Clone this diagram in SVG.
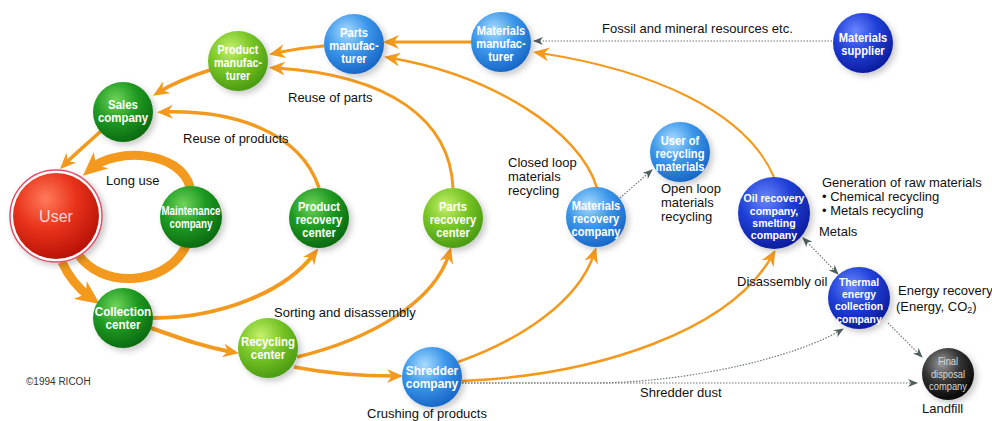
<svg xmlns="http://www.w3.org/2000/svg" width="992" height="421" viewBox="0 0 992 421">
<defs>
<radialGradient id="gDark" cx="0.38" cy="0.3" r="0.72"><stop offset="0" stop-color="#6fd45a"/><stop offset="0.5" stop-color="#1f9a22"/><stop offset="1" stop-color="#0a6a10"/></radialGradient>
<radialGradient id="gLight" cx="0.38" cy="0.3" r="0.72"><stop offset="0" stop-color="#c6f06c"/><stop offset="0.5" stop-color="#78c526"/><stop offset="1" stop-color="#4a9a12"/></radialGradient>
<radialGradient id="bLight" cx="0.38" cy="0.3" r="0.72"><stop offset="0" stop-color="#a8dcff"/><stop offset="0.5" stop-color="#3b96ea"/><stop offset="1" stop-color="#1766c6"/></radialGradient>
<radialGradient id="bDark" cx="0.38" cy="0.3" r="0.72"><stop offset="0" stop-color="#6a86ff"/><stop offset="0.5" stop-color="#2040d8"/><stop offset="1" stop-color="#0c1c9c"/></radialGradient>
<radialGradient id="blk" cx="0.38" cy="0.3" r="0.72"><stop offset="0" stop-color="#9a9a9a"/><stop offset="0.5" stop-color="#333"/><stop offset="1" stop-color="#050505"/></radialGradient>
<radialGradient id="red" cx="0.38" cy="0.3" r="0.72"><stop offset="0" stop-color="#ff7a5a"/><stop offset="0.5" stop-color="#e8321a"/><stop offset="1" stop-color="#b81208"/></radialGradient>
<filter id="sh" x="-30%" y="-30%" width="170%" height="170%"><feDropShadow dx="3" dy="3" stdDeviation="3" flood-color="#000" flood-opacity="0.22"/></filter>
<marker id="ao" markerUnits="userSpaceOnUse" markerWidth="16" markerHeight="14" refX="9" refY="7" orient="auto"><path d="M0,0 L16,7 L0,14 L5,7 z" fill="#f39a1e"/></marker>
<marker id="aoL" markerUnits="userSpaceOnUse" markerWidth="24" markerHeight="22" refX="12" refY="11" orient="auto"><path d="M0,0 L24,11 L0,22 L7,11 z" fill="#f39a1e"/></marker>
<marker id="ad" markerUnits="userSpaceOnUse" markerWidth="10" markerHeight="8" refX="9" refY="4" orient="auto"><path d="M0,0 L10,4 L0,8 L3,4 z" fill="#4e5e5c"/></marker>
<marker id="adS" markerUnits="userSpaceOnUse" markerWidth="10" markerHeight="8" refX="1" refY="4" orient="auto"><path d="M10,0 L0,4 L10,8 L7,4 z" fill="#4e5e5c"/></marker>
<style>
.o{fill:none;stroke:#f39a1e;stroke-linecap:butt}
.d{fill:none;stroke:#6f7775;stroke-width:1.2;stroke-dasharray:1.5 1.5}
.nt{font-family:"Liberation Sans",Arial,sans-serif;font-weight:bold;font-size:13px;fill:#fff;text-anchor:middle}
.n3{font-size:12px}
.n4{font-size:11px}
.lb{font-family:"Liberation Sans",Arial,sans-serif;font-size:13px;fill:#111}
.node circle{filter:url(#sh)}
</style>
</defs>

<g id="connectors">
<path class="o" stroke-width="3" d="M471,42 L390,42" marker-end="url(#ao)"/>
<path class="o" stroke-width="3" d="M324,46 C300,48 290,50 276,53" marker-end="url(#ao)"/>
<path class="o" stroke-width="3" d="M453,188 C450,120 390,75 276,68" marker-end="url(#ao)"/>
<path class="o" stroke-width="2.5" d="M597,188 C580,130 490,75 391,58" marker-end="url(#ao)"/>
<path class="o" stroke-width="2" d="M774,177 C745,110 650,70 540,53" marker-end="url(#ao)"/>
<path class="o" stroke-width="3.5" d="M319,188 C300,130 230,110 164,112" marker-end="url(#ao)"/>
<path class="o" stroke-width="3.5" d="M210,70 C185,78 172,84 159,92" marker-end="url(#ao)"/>
<path class="o" stroke-width="3.5" d="M101,131 C88,143 76,153 65,164" marker-end="url(#ao)"/>
<path class="o" stroke-width="9" d="M190,187 C180,150 115,148 92,168" marker-end="url(#aoL)"/>
<path class="o" stroke-width="9" d="M78,254 C100,288 165,288 186,246"/>
<path class="o" stroke-width="9" d="M62,262 Q72,284 90,297" marker-end="url(#aoL)"/>
<path class="o" stroke-width="4" d="M153,318 C220,318 285,292 314,254" marker-end="url(#ao)"/>
<path class="o" stroke-width="4" d="M151,328 C185,340 205,347 232,352" marker-end="url(#ao)"/>
<path class="o" stroke-width="3.5" d="M297,357 C375,338 435,300 449,254" marker-end="url(#ao)"/>
<path class="o" stroke-width="3.5" d="M294,367 C330,374 365,376 396,376" marker-end="url(#ao)"/>
<path class="o" stroke-width="2.5" d="M458,362 C520,340 578,302 594,254" marker-end="url(#ao)"/>
<path class="o" stroke-width="2.5" d="M462,381 C600,375 730,330 772,256" marker-end="url(#ao)"/>
<path class="d" d="M832,41 L534,41" marker-end="url(#ad)"/>
<path class="d" d="M620,198 L652,170" marker-end="url(#ad)"/>
<path class="d" d="M803,238 L838,274" marker-start="url(#adS)" marker-end="url(#ad)"/>
<path class="d" d="M462,383 L600,383 C700,381 800,355 843,329" marker-end="url(#ad)"/>
<path class="d" d="M462,383 L917,383" marker-end="url(#ad)"/>
<path class="d" d="M888,323 L922,357" marker-end="url(#ad)"/>
</g>

<g id="labels">
<text class="lb" x="602" y="33">Fossil and mineral resources etc.</text>
<text class="lb" x="288" y="102">Reuse of parts</text>
<text class="lb" x="183" y="143">Reuse of products</text>
<text class="lb" x="106" y="185">Long use</text>
<text class="lb" x="508" y="167">Closed loop</text>
<text class="lb" x="508" y="181">materials</text>
<text class="lb" x="508" y="195">recycling</text>
<text class="lb" x="661" y="193">Open loop</text>
<text class="lb" x="661" y="207">materials</text>
<text class="lb" x="661" y="221">recycling</text>
<text class="lb" x="822" y="187">Generation of raw materials</text>
<text class="lb" x="822" y="201">• Chemical recycling</text>
<text class="lb" x="822" y="215">• Metals recycling</text>
<text class="lb" x="819" y="236">Metals</text>
<text class="lb" x="737" y="286">Disassembly oil</text>
<text class="lb" x="898" y="295">Energy recovery</text>
<text class="lb" x="896" y="311">(Energy, CO<tspan font-size="9" dy="2">2</tspan><tspan dy="-2">)</tspan></text>
<text class="lb" x="922" y="413">Landfill</text>
<text class="lb" x="640" y="397">Shredder dust</text>
<text class="lb" x="367" y="418">Crushing of products</text>
<text class="lb" x="274" y="317">Sorting and disassembly</text>
<text x="26" y="385" font-family="Liberation Sans, Arial, sans-serif" font-size="10" fill="#333">©1994 RICOH</text>
</g>

<g id="n-user" class="node" transform="translate(56,216)">
<circle r="46" fill="#fff" stroke="#e0506a" stroke-width="1.5"/>
<circle r="43" fill="url(#red)" style="filter:none"/>
<text y="6" text-anchor="middle" font-family="Liberation Sans, Arial, sans-serif" font-size="16" fill="#f8d8d0">User</text>
</g>

<g id="n-materials-supplier" class="node" transform="translate(863,43)">
<circle r="30" fill="url(#bDark)"/>
<text class="nt n3" transform="scale(0.93,1)"><tspan x="0" y="-1.5">Materials</tspan><tspan x="0" y="12">supplier</tspan></text>
</g>
<g id="n-materials-manufacturer" class="node" transform="translate(501,42)">
<circle r="30" fill="url(#bLight)"/>
<text class="nt n3" transform="scale(0.93,1)"><tspan x="0" y="-7.5">Materials</tspan><tspan x="0" y="6">manufac-</tspan><tspan x="0" y="19.5">turer</tspan></text>
</g>
<g id="n-parts-manufacturer" class="node" transform="translate(354,44)">
<circle r="30" fill="url(#bLight)"/>
<text class="nt n3" transform="scale(0.93,1)"><tspan x="0" y="-7.5">Parts</tspan><tspan x="0" y="6">manufac-</tspan><tspan x="0" y="19.5">turer</tspan></text>
</g>
<g id="n-product-manufacturer" class="node" transform="translate(238,61)">
<circle r="30" fill="url(#gLight)"/>
<text class="nt n3" transform="scale(0.9,1)"><tspan x="0" y="-7.5">Product</tspan><tspan x="0" y="6">manufac-</tspan><tspan x="0" y="19.5">turer</tspan></text>
</g>
<g id="n-sales-company" class="node" transform="translate(123,112)">
<circle r="30" fill="url(#gDark)"/>
<text class="nt" transform="scale(0.88,1)"><tspan x="0" y="-3">Sales</tspan><tspan x="0" y="10">company</tspan></text>
</g>
<g id="n-maintenance-company" class="node" transform="translate(191,217)">
<circle r="31" fill="url(#gDark)"/>
<text class="nt" transform="scale(0.75,1)"><tspan x="0" y="-2">Maintenance</tspan><tspan x="0" y="11">company</tspan></text>
</g>
<g id="n-product-recovery-center" class="node" transform="translate(319,218)">
<circle r="30" fill="url(#gDark)"/>
<text class="nt n3" transform="scale(0.93,1)"><tspan x="0" y="-7.5">Product</tspan><tspan x="0" y="6">recovery</tspan><tspan x="0" y="19.5">center</tspan></text>
</g>
<g id="n-parts-recovery-center" class="node" transform="translate(453,218)">
<circle r="30" fill="url(#gLight)"/>
<text class="nt n3" transform="scale(0.93,1)"><tspan x="0" y="-7.5">Parts</tspan><tspan x="0" y="6">recovery</tspan><tspan x="0" y="19.5">center</tspan></text>
</g>
<g id="n-materials-recovery-company" class="node" transform="translate(596,217)">
<circle r="30" fill="url(#bLight)"/>
<text class="nt n3" transform="scale(0.93,1)"><tspan x="0" y="-7.5">Materials</tspan><tspan x="0" y="6">recovery</tspan><tspan x="0" y="19.5">company</tspan></text>
</g>
<g id="n-user-of-recycling-materials" class="node" transform="translate(680,152)">
<circle r="30" fill="url(#bLight)"/>
<text class="nt n3" transform="scale(0.93,1)"><tspan x="0" y="-7.5">User of</tspan><tspan x="0" y="6">recycling</tspan><tspan x="0" y="19.5">materials</tspan></text>
</g>
<g id="n-oil-recovery-company" class="node" transform="translate(774,213)">
<circle r="36" fill="url(#bDark)"/>
<text class="nt n4" transform="scale(0.96,1)"><tspan x="0" y="-11">Oil recovery</tspan><tspan x="0" y="1.5">company,</tspan><tspan x="0" y="14">smelting</tspan><tspan x="0" y="26.5">company</tspan></text>
</g>
<g id="n-thermal-energy-collection-company" class="node" transform="translate(859,298)">
<circle r="31" fill="url(#bDark)"/>
<text class="nt n4" transform="scale(0.94,1)"><tspan x="0" y="-12.5">Thermal</tspan><tspan x="0" y="0">energy</tspan><tspan x="0" y="12.5">collection</tspan><tspan x="0" y="25">company</tspan></text>
</g>
<g id="n-final-disposal-company" class="node" transform="translate(948,374)">
<circle r="26" fill="url(#blk)"/>
<text class="nt" transform="scale(0.85,1)" style="font-weight:normal;font-size:11px;fill:#d8d8d8"><tspan x="0" y="-9">Final</tspan><tspan x="0" y="3.5">disposal</tspan><tspan x="0" y="16">company</tspan></text>
</g>
<g id="n-collection-center" class="node" transform="translate(123,318)">
<circle r="30" fill="url(#gDark)"/>
<text class="nt" transform="scale(0.9,1)"><tspan x="0" y="-2">Collection</tspan><tspan x="0" y="11">center</tspan></text>
</g>
<g id="n-recycling-center" class="node" transform="translate(268,348)">
<circle r="30" fill="url(#gLight)"/>
<text class="nt" transform="scale(0.88,1)"><tspan x="0" y="-2">Recycling</tspan><tspan x="0" y="11">center</tspan></text>
</g>
<g id="n-shredder-company" class="node" transform="translate(432,377)">
<circle r="30" fill="url(#bLight)"/>
<text class="nt" transform="scale(0.92,1)"><tspan x="0" y="-2">Shredder</tspan><tspan x="0" y="11">company</tspan></text>
</g>
</svg>
